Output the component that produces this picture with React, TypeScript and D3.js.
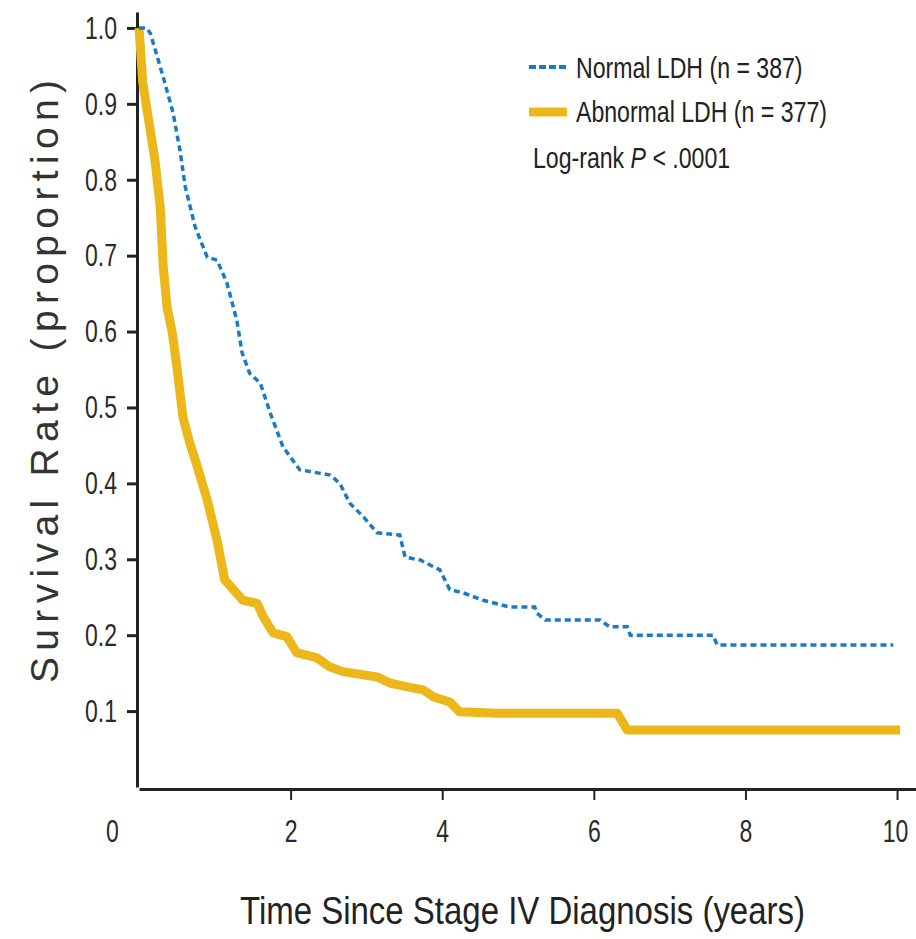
import { useEffect, useRef } from 'react';
import * as d3 from 'd3';

const W = 916;
const H = 939;

// Kaplan-Meier points [years, survival proportion]
const normalLdh: [number, number][] = [
  [0, 1.0], [0.1, 1.0], [0.15, 0.993], [0.32, 0.935], [0.45, 0.888], [0.54, 0.839],
  [0.61, 0.791], [0.74, 0.738], [0.9, 0.698], [1.03, 0.694], [1.16, 0.664],
  [1.29, 0.615], [1.36, 0.572], [1.46, 0.545], [1.6, 0.532], [1.73, 0.493],
  [1.9, 0.448], [2.12, 0.418], [2.52, 0.411], [2.65, 0.4], [2.78, 0.374],
  [2.96, 0.356], [3.14, 0.335], [3.44, 0.332], [3.51, 0.303], [3.71, 0.299],
  [3.97, 0.286], [4.1, 0.26], [4.27, 0.256], [4.54, 0.246], [4.89, 0.237],
  [5.22, 0.237], [5.25, 0.229], [5.36, 0.22], [6.08, 0.22], [6.21, 0.211],
  [6.44, 0.211], [6.48, 0.2], [7.57, 0.2], [7.63, 0.187], [9.95, 0.187],
];

const abnormalLdh: [number, number][] = [
  [0, 1.0], [0.05, 0.928], [0.12, 0.883], [0.21, 0.826], [0.28, 0.764],
  [0.32, 0.685], [0.37, 0.632], [0.44, 0.598], [0.5, 0.553], [0.58, 0.487],
  [0.67, 0.453], [0.77, 0.422], [0.9, 0.378], [1.03, 0.325], [1.13, 0.273],
  [1.37, 0.246], [1.56, 0.242], [1.64, 0.224], [1.77, 0.203], [1.95, 0.198],
  [2.08, 0.177], [2.35, 0.17], [2.52, 0.158], [2.69, 0.152], [3.14, 0.145],
  [3.31, 0.137], [3.54, 0.132], [3.75, 0.128], [3.88, 0.119], [4.1, 0.112],
  [4.23, 0.099], [4.72, 0.097], [6.31, 0.097], [6.44, 0.075], [10.04, 0.075],
];

const xTicks = [0, 2, 4, 6, 8, 10];
const yTicks = [0.1, 0.2, 0.3, 0.4, 0.5, 0.6, 0.7, 0.8, 0.9, 1.0];

const BLUE = '#1a7bc4';
const GOLD = '#ebb71a';
const FONT = '"Liberation Sans", Arial, sans-serif';
const SQUEEZE = 0.72; // no narrow font installed, so scale glyphs horizontally

export default function App() {
  const svgRef = useRef<SVGSVGElement>(null);

  useEffect(() => {
    if (!svgRef.current) return;
    const svg = d3.select(svgRef.current);
    svg.selectAll('*').remove();

    const x = d3.scaleLinear().domain([0, 10.25]).range([139, 916]);
    const y = d3.scaleLinear().domain([0, 1.021]).range([787, 12]);

    // y axis
    const gy = svg.append('g')
      .attr('transform', `translate(${x(0) - 2},0)`)
      .call(d3.axisLeft(y).tickValues(yTicks).tickFormat(d3.format('.1f')).tickSize(10).tickSizeOuter(0).tickPadding(10));
    gy.select('.domain').attr('stroke', '#222').attr('stroke-width', 3);
    gy.selectAll('.tick line').attr('stroke', '#222').attr('stroke-width', 3);
    gy.selectAll('.tick text')
      .attr('fill', '#2a2a2a')
      .attr('font-family', FONT)
      .attr('font-size', 32)
      .attr('x', -20 / SQUEEZE)
      .attr('transform', `scale(${SQUEEZE},1)`);

    // x axis
    const gx = svg.append('g')
      .attr('transform', `translate(0,${y(0) + 2})`)
      .call(d3.axisBottom(x).tickValues(xTicks).tickFormat(d3.format('d')).tickSize(11).tickSizeOuter(0).tickPadding(19));
    gx.select('.domain').attr('stroke', '#222').attr('stroke-width', 3);
    gx.selectAll('.tick line').attr('stroke', '#222').attr('stroke-width', 2);
    gx.selectAll('.tick').filter((d: any) => d === 0).select('line').remove();
    gx.selectAll('.tick text')
      .attr('fill', '#2a2a2a')
      .attr('font-family', FONT)
      .attr('font-size', 32)
      .attr('dx', (d: any) => (d === 0 ? -27 : d === 10 ? -2 : 0) / SQUEEZE)
      .attr('transform', `scale(${SQUEEZE},1)`);

    const line = d3.line<[number, number]>()
      .x(d => x(d[0]))
      .y(d => y(d[1]));

    svg.append('path')
      .datum(abnormalLdh)
      .attr('fill', 'none')
      .attr('stroke', GOLD)
      .attr('stroke-width', 9)
      .attr('stroke-linejoin', 'round')
      .attr('d', line);

    svg.append('path')
      .datum(normalLdh)
      .attr('fill', 'none')
      .attr('stroke', BLUE)
      .attr('stroke-width', 3.5)
      .attr('stroke-dasharray', '6,4')
      .attr('d', line);

    // legend
    const lg = svg.append('g').attr('font-family', FONT).attr('font-size', 30).attr('fill', '#222');
    lg.append('line').attr('x1', 529).attr('x2', 567).attr('y1', 67).attr('y2', 67)
      .attr('stroke', BLUE).attr('stroke-width', 4).attr('stroke-dasharray', '7,3');
    lg.append('text').attr('transform', 'translate(576,78) scale(0.77,1)').text('Normal LDH (n = 387)');
    lg.append('line').attr('x1', 529).attr('x2', 567).attr('y1', 112).attr('y2', 112)
      .attr('stroke', GOLD).attr('stroke-width', 9);
    lg.append('text').attr('transform', 'translate(576,122) scale(0.77,1)').text('Abnormal LDH (n = 377)');
    const lr = lg.append('text').attr('transform', 'translate(533,168) scale(0.77,1)');
    lr.append('tspan').text('Log-rank ');
    lr.append('tspan').attr('font-style', 'italic').text('P');
    lr.append('tspan').text(' < .0001');

    // axis titles
    svg.append('text')
      .attr('x', 240).attr('y', 924)
      .attr('font-family', FONT).attr('font-size', 39).attr('fill', '#222')
      .attr('textLength', 565).attr('lengthAdjust', 'spacingAndGlyphs')
      .text('Time Since Stage IV Diagnosis (years)');

    svg.append('text')
      .attr('transform', 'translate(58,683) rotate(-90)')
      .attr('font-family', FONT).attr('font-size', 39).attr('fill', '#333')
      .attr('textLength', 603).attr('lengthAdjust', 'spacing')
      .text('Survival Rate (proportion)');
  }, []);

  return (
    <div style={{ position: 'fixed', left: 0, top: 0, width: W, height: H, background: '#fff' }}>
      <svg ref={svgRef} width={W} height={H} style={{ display: 'block' }} />
    </div>
  );
}
